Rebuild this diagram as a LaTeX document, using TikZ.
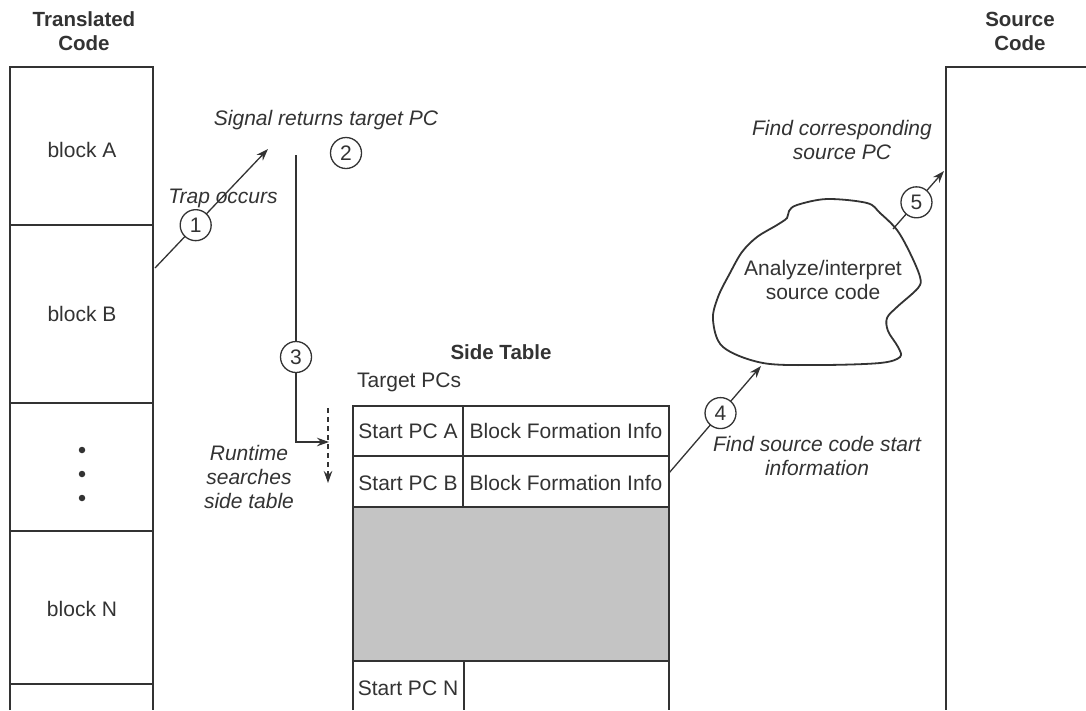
\documentclass[tikz,border=0pt]{standalone}
\usepackage{fontspec}
\setmainfont{Liberation Sans}
\usetikzlibrary{arrows.meta}
\definecolor{ink}{HTML}{333333}
\definecolor{fillgray}{RGB}{196,196,196}
\tikzset{
  txt/.style={font=\fontsize{21}{24}\selectfont, text=ink, inner sep=0pt, align=center},
  itl/.style={font=\fontsize{21}{24}\selectfont\itshape, text=ink, inner sep=0pt, align=center},
  ttl/.style={font=\fontsize{20.5}{24}\selectfont\bfseries, text=ink, inner sep=0pt, align=center},
  num/.style={circle, draw=ink, fill=white, line width=1.3pt, minimum size=31pt, inner sep=0pt, font=\fontsize{21}{21}\selectfont, text=ink},
  arr/.style={draw=ink, line width=1.3pt, -{Stealth[length=12pt,width=8.5pt]}},
  boxline/.style={draw=ink, line width=1.8pt},
  dot/.style={circle, fill=ink, inner sep=0pt, minimum size=6.5pt}
}
\begin{document}
\begin{tikzpicture}[x=1pt,y=-1pt]
\useasboundingbox (0,0) rectangle (1086,710);
\fill[white] (0,0) rectangle (1086,710);

% ---- Translated code column
\node[ttl] (ttitle) at (84,31) {Translated\\Code};
\draw[boxline] (10,710) -- (10,67) -- (153,67) -- (153,710);
\draw[boxline] (10,225) -- (153,225);
\draw[boxline] (10,403) -- (153,403);
\draw[boxline] (10,531) -- (153,531);
\draw[boxline] (10,684) -- (153,684);
\node[txt] (bA) at (82,150) {block A};
\node[txt] (bB) at (82,314) {block B};
\node[dot] (d1) at (82,450) {};
\node[dot] (d2) at (82,474) {};
\node[dot] (d3) at (82,498) {};
\node[txt] (bN) at (82,609) {block N};

% ---- Source code column
\node[ttl] (stitle) at (1020,31) {Source\\Code};
\draw[boxline] (1086,67) -- (946,67) -- (946,710);

% ---- Side table
\node[ttl] (sidet) at (501,352) {Side Table};
\node[txt, anchor=west] (tpcs) at (357,382) {Target PCs};
\fill[fillgray] (353,507) rectangle (669,661);
\draw[boxline] (353,710) -- (353,406) -- (669,406) -- (669,710);
\draw[boxline] (353,456) -- (669,456);
\draw[boxline] (353,507) -- (669,507);
\draw[boxline] (353,661) -- (669,661);
\draw[boxline] (463,406) -- (463,507);
\draw[boxline] (464,661) -- (464,710);
\node[txt] (sA) at (408,431) {Start PC A};
\node[txt] (iA) at (566,431) {Block Formation Info};
\node[txt] (sB) at (408,483) {Start PC B};
\node[txt] (iB) at (566,483) {Block Formation Info};
\node[txt] (sN) at (408,688) {Start PC N};

% ---- Cloud
\draw[draw=ink, line width=1.8pt] plot[smooth cycle, tension=0.55] coordinates {
 (797,205) (827,199) (867,203) (880,213) (897,230) (910,253) (920,277) (918,288)
 (897,307) (887,318) (888,331) (898,347) (900,357) (880,363) (820,365) (763,363)
 (723,347) (713,320) (718,297) (730,273) (742,252) (757,237) (777,225) (787,218) (789,211)};
\node[txt] (cloud) at (823,280) {Analyze/interpret\\source code};

% ---- connector coordinates
\coordinate (p1s) at (155,268);
\coordinate (p1e) at (268,149);
\coordinate (p3s) at (296,155);
\coordinate (p3c) at (296,442);
\coordinate (p3e) at (329,442);
\coordinate (dsA) at (328,408);
\coordinate (dsB) at (328,483);
\coordinate (p4s) at (669,473);
\coordinate (p4e) at (761,366);
\coordinate (p5s) at (893,229);
\coordinate (p5e) at (944,171);

% step 1
\draw[arr] (p1s) -- node[num, pos=0.36] (n1) {1} (p1e);
\node[itl] (l1) at (223,198) {Trap occurs};
% step 2
\node[itl] (l2) at (326,120) {Signal returns target PC};
\node[num] (n2) at (346,153) {2};
% step 3
\draw[arr] (p3s) -- (p3c) -- (p3e);
\node[num] (n3) at (296,357) {3};
\draw[arr, dash pattern=on 5pt off 4pt] (dsA) -- (dsB);
\node[itl] (l3) at (249,477) {Runtime\\searches\\side table};
% step 4
\draw[arr] (p4s) -- node[num, pos=0.56] (n4) {4} (p4e);
\node[itl] (l4) at (817,456) {Find source code start\\information};
% step 5
\draw[arr] (p5s) -- node[num, pos=0.46] (n5) {5} (p5e);
\node[itl] (l5) at (842,140) {Find corresponding\\source PC};
\end{tikzpicture}
\end{document}
